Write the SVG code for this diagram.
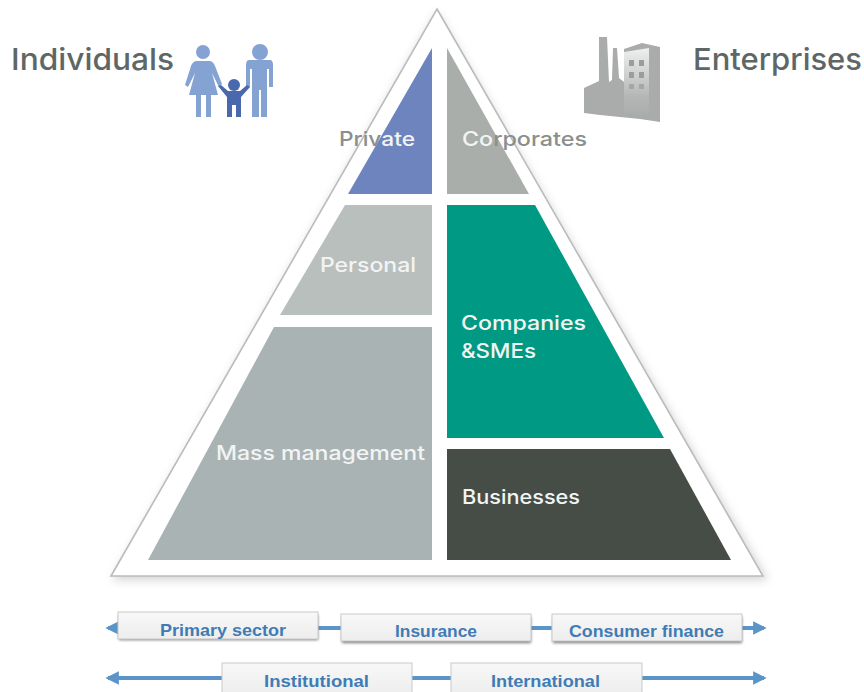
<svg xmlns="http://www.w3.org/2000/svg" width="864" height="692" viewBox="0 0 864 692">
<defs>
<filter id="soft" x="-20%" y="-20%" width="140%" height="140%"><feGaussianBlur stdDeviation="5"/></filter>
<filter id="blur" x="-20%" y="-40%" width="140%" height="200%"><feGaussianBlur stdDeviation="1.5"/></filter>
<linearGradient id="box" x1="0" y1="0" x2="0" y2="1"><stop offset="0" stop-color="#f8f8f8"/><stop offset="1" stop-color="#ededee"/></linearGradient>
<linearGradient id="fac" x1="0" y1="0" x2="0" y2="1"><stop offset="0" stop-color="#eef0ef"/><stop offset=".7" stop-color="#b4b7b6"/><stop offset="1" stop-color="#a9acab"/></linearGradient>
<marker id="ah" viewBox="0 0 10 10" refX="8" refY="5" markerWidth="3.4" markerHeight="4.2" orient="auto-start-reverse"><path d="M0 0L10 5L0 10Z" fill="#5b94c9"/></marker>
</defs>
<style>
text{font-family:"Inter","Lato","Liberation Sans",sans-serif}
.head{font-size:30px;fill:#5f6766;font-weight:500}
.lab{font-size:20px;fill:#f2f4f3;font-weight:500}
.gl{fill:#8a8f8e}
.bt{font-family:"Liberation Sans",Arial,sans-serif;font-size:17px;font-weight:bold;fill:#3f7cb5}
.bx{fill:url(#box);stroke:#c9c9c9;stroke-width:1}
.bs{fill:#77797b;filter:url(#blur)}
.cn{stroke:#5b94c9;stroke-width:4;fill:none}
.p1{fill:#84a2d2}.p2{fill:#4a68ac}.f{fill:#a9acab}
</style>
<rect width="864" height="692" fill="#fff"/>
<g id="pyramid">
<path d="M437 12L768 580L112 580Z" fill="#a8a8a8" opacity=".5" filter="url(#soft)"/>
<path d="M437 9L763 576L111 576Z" fill="#fff" stroke="#b9bcbb" stroke-width="1.6"/>
</g>
<g id="node-private"><path d="M432 48V194H348Z" fill="#6d84bf"/><text class="lab" x="339" y="146" textLength="76" lengthAdjust="spacingAndGlyphs"><tspan class="gl">Priv</tspan>ate</text></g>
<g id="node-corporates"><path d="M447 48V194H529Z" fill="#a9aeaa"/><text class="lab" x="462" y="146" textLength="125" lengthAdjust="spacingAndGlyphs">Co<tspan class="gl">rporates</tspan></text></g>
<g id="node-personal"><path d="M345 205H432V315H280Z" fill="#b9bfbc"/><text class="lab" x="320" y="272" textLength="96" lengthAdjust="spacingAndGlyphs">Personal</text></g>
<g id="node-companies"><path d="M447 205H535L664 438H447Z" fill="#009a84"/><text class="lab" x="461" y="330" textLength="125" lengthAdjust="spacingAndGlyphs">Companies</text><text class="lab" x="461" y="358" textLength="75" lengthAdjust="spacingAndGlyphs">&amp;SMEs</text></g>
<g id="node-mass"><path d="M274 327H432V560H148Z" fill="#a9b3b3"/><text class="lab" x="216" y="460" textLength="209" lengthAdjust="spacingAndGlyphs">Mass management</text></g>
<g id="node-businesses"><path d="M447 449H670L731 560H447Z" fill="#464d47"/><text class="lab" x="462" y="504" textLength="118" lengthAdjust="spacingAndGlyphs">Businesses</text></g>
<g id="node-individuals"><text class="head" x="11" y="70" textLength="163" lengthAdjust="spacingAndGlyphs">Individuals</text>
<g id="family">
<circle class="p1" cx="203" cy="52" r="7"/>
<path class="p1" d="M197 61H209C212 61 214 63 215 66L222 84L219 87L212 73L218 95H211V117H206V95H201V117H196V95H189L195 73L188 87L185 85L191 66C192 63 194 61 197 61Z"/>
<circle class="p1" cx="260" cy="52" r="8"/>
<path class="p1" d="M249 60H270C272 60 273 62 273 65V87H269V69H267V117H261V90H259V117H252V69H250V87H246V65C246 62 247 60 249 60Z"/>
<circle class="p2" cx="234" cy="85" r="6"/>
<path class="p2" d="M218 86L221 85L228 91H240L247 85L250 87L241 97V117H236V105H232V117H227V97Z"/>
</g></g>
<g id="node-enterprises"><text class="head" x="693" y="70" textLength="169" lengthAdjust="spacingAndGlyphs">Enterprises</text>
<g id="factory">
<path class="f" d="M599 37H607L609 82L612 80L613 48H617L619 78L624 82V49L642 43L660 47V122L640 119L600 115L584 113V88L599 81Z"/>
<path d="M624 52L649 48V117L624 113Z" fill="url(#fac)"/>
<path d="M629 60h5v6h-5zM639 60h5v6h-5zM629 72h5v6h-5zM639 72h5v6h-5z" fill="#9a9d9c"/>
<path d="M629 84h5v5h-5zM639 84h5v5h-5z" fill="#a4a7a6"/>
</g></g>
<g id="connectors">
<path class="cn" d="M108 628H764" marker-start="url(#ah)" marker-end="url(#ah)"/>
<path class="cn" d="M108 678H764" marker-start="url(#ah)" marker-end="url(#ah)"/>
</g>
<g id="node-primary"><rect class="bs" x="119" y="615" width="199" height="25"/><rect class="bx" x="118" y="612" width="200" height="27"/><text class="bt" x="160" y="636" textLength="126" lengthAdjust="spacingAndGlyphs">Primary sector</text></g>
<g id="node-insurance"><rect class="bs" x="342" y="617" width="189" height="26"/><rect class="bx" x="341" y="614" width="190" height="27"/><text class="bt" x="395" y="637" textLength="82" lengthAdjust="spacingAndGlyphs">Insurance</text></g>
<g id="node-consumer"><rect class="bs" x="553" y="617" width="189" height="26"/><rect class="bx" x="552" y="614" width="190" height="27"/><text class="bt" x="569" y="637" textLength="155" lengthAdjust="spacingAndGlyphs">Consumer finance</text></g>
<g id="node-institutional"><rect class="bx" x="222" y="663" width="190" height="32"/><text class="bt" x="264" y="687" textLength="105" lengthAdjust="spacingAndGlyphs">Institutional</text></g>
<g id="node-international"><rect class="bx" x="451" y="663" width="191" height="32"/><text class="bt" x="491" y="687" textLength="109" lengthAdjust="spacingAndGlyphs">International</text></g>
</svg>
